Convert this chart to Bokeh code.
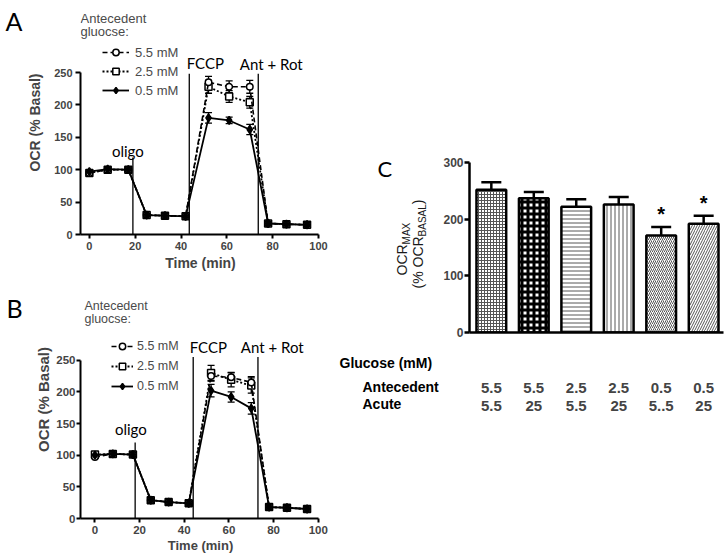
import math
from bokeh.plotting import figure
from bokeh.models import (ColumnDataSource, Range1d, FixedTicker, Label, Legend,
                          LegendItem, Whisker, TeeHead)
from bokeh.layouts import row, column
from bokeh.embed import file_html
from bokeh.resources import INLINE
from bokeh.core.properties import value

# ---------------- data ----------------
time_min = [0, 8, 17, 25, 33, 42, 52, 61, 70, 78, 86, 95]
series_labels = ["5.5 mM", "2.5 mM", "0.5 mM"]

# Panel A: OCR (% basal)
a_ocr_55 = [95, 100, 100, 30, 29, 28, 235, 228, 228, 17, 16, 15]
a_ocr_25 = [95, 100, 100, 30, 29, 28, 228, 213, 204, 17, 16, 15]
a_ocr_05 = [97, 101, 100, 30, 29, 28, 180, 176, 162, 17, 16, 15]
a_err_55 = [3, 2, 2, 2, 2, 2, 9, 9, 10, 2, 2, 2]
a_err_25 = [3, 2, 2, 2, 2, 2, 10, 9, 9, 2, 2, 2]
a_err_05 = [3, 2, 2, 2, 2, 2, 8, 5, 8, 2, 2, 2]

# Panel B: OCR (% basal)
b_ocr_55 = [97, 102, 101, 29, 26, 24, 225, 223, 215, 18, 17, 15]
b_ocr_25 = [101, 102, 101, 29, 26, 24, 230, 219, 210, 18, 17, 15]
b_ocr_05 = [100, 102, 101, 29, 26, 24, 202, 192, 174, 18, 17, 15]
b_err_55 = [2, 2, 2, 2, 2, 2, 8, 8, 9, 2, 2, 2]
b_err_25 = [2, 2, 2, 2, 2, 2, 12, 11, 12, 2, 2, 2]
b_err_05 = [2, 2, 2, 2, 2, 2, 10, 8, 9, 2, 2, 2]

# injections
event_names = ["oligo", "FCCP", "Ant + Rot"]
a_event_times = [19, 43.6, 73.7]
a_event_tops = [119, 248, 248]
b_event_times = [18, 44, 73]
b_event_tops = [120, 255, 255]

time_ticks = [0, 20, 40, 60, 80, 100]
ocr_ticks = [0, 50, 100, 150, 200, 250]

# Panel C
antecedent_glucose = ["5.5", "5.5", "2.5", "2.5", "0.5", "0.5"]
acute_glucose = ["5.5", "25", "5.5", "25", "5..5", "25"]
ocr_max = [252, 237, 222, 226, 171, 192]
ocr_max_sem = [13, 11, 13, 13, 15, 14]
significance = ["", "", "", "", "*", "*"]
ocr_max_ticks = [0, 100, 200, 300]

# ---------------- styles ----------------
ARIAL = "Liberation Sans"
CALIBRI = "Lato"
PAGE_H = 558
BASE_K = 0.4   # correction: rendered baseline sits ~0.4 em below the anchor
series_style = {
    "5.5 mM": dict(dash="5 3", marker="circle", size=6.5, fill="white", lw=1.6),
    "2.5 mM": dict(dash="2 2", marker="square", size=7, fill="white", lw=1.8),
    "0.5 mM": dict(dash="solid", marker="diamond", size=8, fill="black", lw=1.8),
}


def px(size):
    return float(size.replace("px", ""))


def text_strip(x0, w, h=PAGE_H):
    """A blank figure used only to hold free text; data units == page pixels."""
    p = figure(width=w, height=h, x_range=Range1d(x0, x0 + w), y_range=Range1d(h, 0),
               x_axis_type=None, y_axis_type=None, output_backend="svg",
               toolbar_location=None, min_border=0)
    p.outline_line_color = None
    p.grid.visible = False
    return p


def add_label(p, text, x, y, font, size, style="normal", angle=0.0, color="black"):
    p.add_layout(Label(x=x, y=y, text=text, text_font=font, text_font_size=size,
                       text_font_style=style, angle=angle, text_color=color,
                       text_baseline="alphabetic", text_align="left"))


def strip_label(p, text, ix, iy, font, size, style="normal", rotated=False,
                color="black"):
    k = BASE_K * px(size)
    if rotated:
        add_label(p, text, ix - k, iy, font, size, style, math.pi / 2, color)
    else:
        add_label(p, text, ix, iy - k, font, size, style, 0.0, color)


def time_panel(off, fw, fh, frame, x0px, xs, ys, vals, errs, ev_t, ev_top, txt, fnt):
    left, right, top, bottom = frame
    ox, oy = off
    tx = lambda ix: (ix - x0px) / xs
    ty = lambda iy: (bottom - iy) / ys
    p = figure(width=fw, height=fh, x_range=Range1d(tx(left), tx(right)),
               y_range=Range1d(0, ty(top)), output_backend="svg",
               toolbar_location=None,
               min_border_left=left - ox, min_border_right=ox + fw - right,
               min_border_top=top - oy, min_border_bottom=oy + fh - bottom)
    p.outline_line_color = None
    p.xgrid.visible = False
    p.ygrid.visible = False
    p.xaxis.ticker = FixedTicker(ticks=time_ticks)
    p.yaxis.ticker = FixedTicker(ticks=ocr_ticks)
    p.xaxis.bounds = (tx(left), time_ticks[-1])
    p.yaxis.bounds = (0, ocr_ticks[-1])
    p.xaxis.axis_label = "Time (min)"
    p.yaxis.axis_label = "OCR (% Basal)"
    for ax in (p.xaxis[0], p.yaxis[0]):
        ax.axis_line_width = 2
        ax.major_tick_line_width = 2
        ax.major_tick_in = 0
        ax.minor_tick_line_color = None
        ax.major_label_text_font = ARIAL
        ax.major_label_text_font_style = "bold"
        ax.major_label_text_font_size = fnt["tick"]
        ax.axis_label_text_font = ARIAL
        ax.axis_label_text_font_style = "bold"
    p.xaxis.axis_label_text_font_size = fnt["xlab"]
    p.yaxis.axis_label_text_font_size = fnt["ylab"]
    p.xaxis.major_tick_out = fnt["xtick_out"]
    p.yaxis.major_tick_out = fnt["ytick_out"]
    p.xaxis.major_label_standoff = fnt["x_std"]
    p.yaxis.major_label_standoff = fnt["y_std"]
    p.xaxis.axis_label_standoff = fnt["xl_std"]
    p.yaxis.axis_label_standoff = fnt["yl_std"]

    # injection lines
    p.segment(x0=ev_t, y0=[0] * len(ev_t), x1=ev_t, y1=ev_top,
              line_color="black", line_width=1.3)

    rends = {}
    for lbl in ["2.5 mM", "5.5 mM", "0.5 mM"]:
        v = vals[lbl]
        e = errs[lbl]
        st = series_style[lbl]
        src = ColumnDataSource(dict(t=time_min, v=v,
                                    lo=[a - b for a, b in zip(v, e)],
                                    hi=[a + b for a, b in zip(v, e)]))
        lr = p.line("t", "v", source=src, line_color="black",
                    line_width=st["lw"], line_dash=st["dash"])
        p.add_layout(Whisker(source=src, base="t", lower="lo", upper="hi",
                             line_width=1.3, line_color="black",
                             upper_head=TeeHead(size=7, line_width=1.3),
                             lower_head=TeeHead(size=7, line_width=1.3)))
        sr = p.scatter("t", "v", source=src, marker=st["marker"], size=st["size"],
                       fill_color=st["fill"], line_color="black", line_width=1.5)
        rends[lbl] = [lr, sr]

    lg = txt["legend"]
    legend = Legend(items=[LegendItem(label=l, renderers=rends[l]) for l in series_labels],
                    location=(lg["x"] - left, bottom - lg["bottom"]),
                    orientation="vertical", border_line_color=None,
                    background_fill_alpha=0, padding=0, margin=0,
                    spacing=lg["spacing"], glyph_width=lg["gw"], glyph_height=16,
                    label_height=16, label_standoff=lg["std"],
                    label_text_font=ARIAL, label_text_font_size=fnt["legend"],
                    label_text_color="#4a4a4a")
    p.add_layout(legend)

    def lab(text, ix, iy, font, size, color="black"):
        add_label(p, text, tx(ix), ty(iy - BASE_K * px(size)), font, size, color=color)

    lab("Antecedent", *txt["ant"], ARIAL, fnt["legend"], "#4a4a4a")
    lab("gluocse:", *txt["glu"], ARIAL, fnt["legend"], "#4a4a4a")
    for name, pos in zip(event_names, txt["events"]):
        lab(name, *pos, CALIBRI, "15px")
    return p


# panel letters strip (x 0..24)
letters = text_strip(0, 24)
strip_label(letters, "A", 5, 30, CALIBRI, "25px")
strip_label(letters, "B", 6, 317, CALIBRI, "25px")

pA = time_panel(
    (24, 0), 314, 278, (76, 320, 10, 234), 85, 2.33, 0.648,
    {"5.5 mM": a_ocr_55, "2.5 mM": a_ocr_25, "0.5 mM": a_ocr_05},
    {"5.5 mM": a_err_55, "2.5 mM": a_err_25, "0.5 mM": a_err_05},
    a_event_times, a_event_tops,
    dict(ant=(76, 23), glu=(76, 36),
         legend=dict(x=98, bottom=98, spacing=3, gw=27, std=6),
         events=[(108, 156), (184, 68), (238, 69)]),
    dict(tick="11px", xlab="14px", ylab="14px", legend="13px", xtick_out=4,
         ytick_out=5, x_std=3, y_std=3, xl_std=2, yl_std=8))

pB = time_panel(
    (24, 278), 314, 280, (76, 320, 280, 518), 90.7, 2.27, 0.633,
    {"5.5 mM": b_ocr_55, "2.5 mM": b_ocr_25, "0.5 mM": b_ocr_05},
    {"5.5 mM": b_err_55, "2.5 mM": b_err_25, "0.5 mM": b_err_05},
    b_event_times, b_event_tops,
    dict(ant=(80, 310), glu=(80, 323),
         legend=dict(x=107, bottom=393.7, spacing=4, gw=22, std=4),
         events=[(111, 434), (187, 352), (239, 352)]),
    dict(tick="11.5px", xlab="13px", ylab="15px", legend="12.5px", xtick_out=4,
         ytick_out=4, x_std=3, y_std=1, xl_std=1, yl_std=1))

# ---------------- panel C ----------------
# text strip left of the bar chart (x 338..440)
cleft = text_strip(338, 102)
strip_label(cleft, "C", 377, 177, CALIBRI, "22px")
# rotated y label OCR_MAX / (% OCR_BASAL) with subscripts (Arial widths)
MAIN, SUB = 14.0, 10.0
y_line1 = 275
y_line2 = 288
w_ocr = 2.222 * MAIN
w_pocr = 3.722 * MAIN
w_basal = 3.224 * SUB
for t, bx, sy, sz in [("OCR", 407, y_line1, MAIN),
                      ("MAX", 410, y_line1 - w_ocr, SUB),
                      ("(% OCR", 423, y_line2, MAIN),
                      ("BASAL", 426, y_line2 - w_pocr, SUB),
                      (")", 423, y_line2 - w_pocr - w_basal, MAIN)]:
    strip_label(cleft, t, bx, sy, ARIAL, f"{sz}px", "normal", rotated=True,
                color="#1a1a1a")
strip_label(cleft, "Glucose (mM)", 339, 368, ARIAL, "14px", "bold")
strip_label(cleft, "Antecedent", 362, 392, ARIAL, "14px", "bold")
strip_label(cleft, "Acute", 362, 409, ARIAL, "14px", "bold")

C_OFF = (440, 0)
C_W, C_H = 285, PAGE_H
C_FRAME = (467, 723, 152, 332)
C_X0, C_XS = 489, 42.8          # px of category 1, px per category
C_YS = 170 / 300.0              # px per unit


def cx(ix):
    return 1 + (ix - C_X0) / C_XS


def cy(iy):
    return (C_FRAME[3] - iy) / C_YS


positions = list(range(1, len(ocr_max) + 1))
pC = figure(width=C_W, height=C_H,
            x_range=Range1d(cx(C_FRAME[0]), cx(C_FRAME[1])),
            y_range=Range1d(0, cy(C_FRAME[2])),
            output_backend="svg", toolbar_location=None,
            min_border_left=C_FRAME[0] - C_OFF[0],
            min_border_right=C_OFF[0] + C_W - C_FRAME[1],
            min_border_top=C_FRAME[2] - C_OFF[1],
            min_border_bottom=C_OFF[1] + C_H - C_FRAME[3])
pC.outline_line_color = None
pC.xgrid.visible = False
pC.ygrid.visible = False

hatch_patterns = ["+", "+", "-", "|", "/", "/"]
hatch_scales = [3, 6, 4, 4, 4, 5]
hatch_weights = [1, 3, 1, 1, 1, 1]
hatch_colors = ["#555555", "black", "#555555", "#555555", "#555555", "#555555"]

csrc = ColumnDataSource(dict(
    x=positions, top=ocr_max,
    upper=[a + b for a, b in zip(ocr_max, ocr_max_sem)],
    sig=significance, hp=hatch_patterns, hs=hatch_scales, hw=hatch_weights,
    hc=hatch_colors))
pC.add_layout(Whisker(source=csrc, base="x", lower="top", upper="upper",
                      line_width=2.5, line_color="black",
                      upper_head=TeeHead(size=20, line_width=2.5), lower_head=None))
pC.vbar(x="x", top="top", width=0.7, bottom=0, source=csrc, fill_color="white",
        line_color="black", line_width=2.5, hatch_pattern="hp", hatch_scale="hs",
        hatch_weight="hw", hatch_color="hc")
pC.text(x="x", y="upper", text="sig", source=csrc, text_align="center",
        text_baseline="middle", y_offset=-13, text_font=value(ARIAL),
        text_font_style="bold", text_font_size="20px", text_color="black")

pC.yaxis.ticker = FixedTicker(ticks=ocr_max_ticks)
pC.yaxis.bounds = (0, ocr_max_ticks[-1])
pC.xaxis.ticker = FixedTicker(ticks=positions)
pC.xaxis.major_label_overrides = {
    pos: f"{a}\n{b}" for pos, a, b in zip(positions, antecedent_glucose, acute_glucose)}
for ax in (pC.xaxis[0], pC.yaxis[0]):
    ax.axis_line_width = 2.5
    ax.major_tick_line_width = 2.5
    ax.major_tick_in = 0
    ax.minor_tick_line_color = None
    ax.major_label_text_font = ARIAL
    ax.major_label_text_font_style = "bold"
pC.yaxis.major_tick_out = 5
pC.yaxis.major_label_standoff = 1
pC.yaxis.major_label_text_font_size = "12px"
pC.xaxis.major_tick_out = 0
pC.xaxis.major_tick_line_color = None
pC.xaxis.major_label_standoff = 46
pC.xaxis.major_label_text_font_size = "15px"
pC.xaxis.major_label_text_line_height = 1.1

# wrap each child in its own column so the row does not align the plot frames
layout = row(column(letters), column(pA, pB), column(cleft), column(pC))
open("out.html", "w").write(file_html(layout, INLINE))
